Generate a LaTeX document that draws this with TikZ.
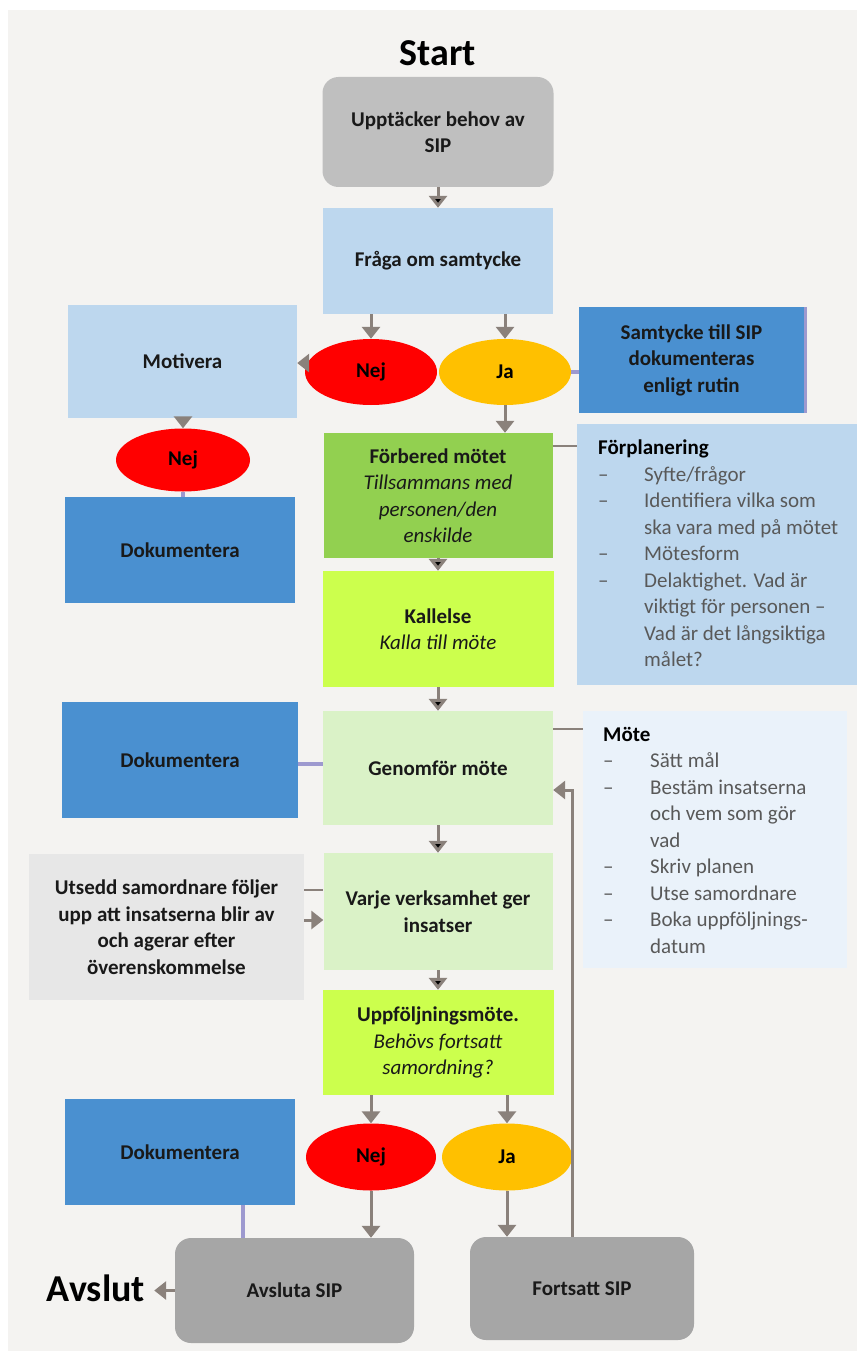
\documentclass[tikz,border=0pt]{standalone}
\usepackage{fontspec}
\setmainfont{Carlito}
\usetikzlibrary{arrows.meta,shapes.geometric,shadows,positioning}

\definecolor{bg}{HTML}{F4F3F1}
\definecolor{startgrey}{HTML}{BFBFBF}
\definecolor{endgrey}{HTML}{A6A6A6}
\definecolor{paleblue}{HTML}{BDD7EE}
\definecolor{docblue}{HTML}{4A90D0}
\definecolor{nejred}{HTML}{FF0000}
\definecolor{jaorange}{HTML}{FFC000}
\definecolor{prepgreen}{HTML}{92D050}
\definecolor{lime}{HTML}{CCFF4D}
\definecolor{palegreen}{HTML}{DAF2C7}
\definecolor{palegrey}{HTML}{E7E7E7}
\definecolor{noteblue}{HTML}{EAF2FA}
\definecolor{arrgrey}{HTML}{8A817B}
\definecolor{doclilac}{HTML}{9D99CF}
\definecolor{listgrey}{HTML}{595959}

\newcommand{\subline}[1]{{\mdseries\itshape #1}}
\newcommand{\dashitem}[2][46pt]{\makebox[#1][l]{--}#2}
\newcommand{\contitem}[2][46pt]{\hspace*{#1}#2}

\tikzset{
  stepbox/.style={rectangle, inner sep=4pt, align=center, text=black!90,
    font=\bfseries\fontsize{21}{26.5}\selectfont},
  endbox/.style={stepbox, rounded corners=16pt},
  answer/.style={ellipse, inner sep=0pt, minimum width=132pt, minimum height=66pt,
    font=\bfseries\fontsize{21}{26.5}\selectfont},
  notebox/.style={rectangle, inner sep=0pt},
  notetext/.style={inner sep=0pt, align=left, text=listgrey,
    font=\fontsize{21}{26.5}\selectfont},
  bigtitle/.style={inner sep=0pt, font=\bfseries\fontsize{38}{40}\selectfont},
  arr/.style={draw=arrgrey, line width=3pt, ->},
  docline/.style={draw=doclilac, line width=4pt},
  noteline/.style={draw=arrgrey, line width=2pt}
}

\begin{document}
\begin{tikzpicture}[x=1pt,y=-1pt,>={Triangle[width=18pt,length=12pt]}]
\useasboundingbox (0,0) rectangle (857,1351);
\fill[white] (0,0) rectangle (857,1351);
\fill[bg] (8,10) rectangle (857,1351);

\node[bigtitle] (start) at (438,53) {Start};
\node[endbox, fill=startgrey, minimum width=231pt, minimum height=110pt] (upp) at (438,132)
  {Upptäcker behov av\\SIP};
\node[stepbox, fill=paleblue, minimum width=230pt, minimum height=106pt] (fraga) at (438,261)
  {Fråga om samtycke};
\node[answer, fill=nejred] (nej1) at (371,372) {Nej};
\node[answer, fill=jaorange] (ja1) at (505,372) {Ja};
\node[stepbox, fill=paleblue, minimum width=229pt, minimum height=113pt] (motivera) at (182.5,361.5)
  {Motivera};
\node[stepbox, fill=docblue, minimum width=225pt, minimum height=106pt,
  general shadow={fill=doclilac, shadow xshift=3pt, shadow yshift=0pt}] (samtycke) at (691.5,360)
  {Samtycke till SIP\\dokumenteras\\enligt rutin};
\node[answer, fill=nejred, minimum width=134pt, minimum height=63pt] (nej2) at (183,460) {Nej};
\node[stepbox, fill=docblue, minimum width=230pt, minimum height=106pt] (dok1) at (180,550)
  {Dokumentera};
\node[stepbox, fill=prepgreen, minimum width=229pt, minimum height=125pt] (forbered) at (438,495.5)
  {Förbered mötet\\\subline{Tillsammans med}\\\subline{personen/den}\\\subline{enskilde}};
\node[notebox, fill=paleblue, minimum width=280pt, minimum height=261pt] (forplan) at (717,554.5) {};
\node[notetext, anchor=north west] (forplantext) at (598,440)
  {\textcolor{black}{\bfseries Förplanering}\\
   \dashitem{Syfte/frågor}\\
   \dashitem{Identifiera vilka som}\\
   \contitem{ska vara med på mötet}\\
   \dashitem{Mötesform}\\
   \dashitem{Delaktighet. Vad är}\\
   \contitem{viktigt för personen --}\\
   \contitem{Vad är det långsiktiga}\\
   \contitem{målet?}};
\node[stepbox, fill=lime, minimum width=231pt, minimum height=116pt] (kallelse) at (438,629)
  {Kallelse\\\subline{Kalla till möte}};
\node[stepbox, fill=docblue, minimum width=236pt, minimum height=116pt] (dok2) at (180,760)
  {Dokumentera};
\node[stepbox, fill=palegreen, minimum width=230pt, minimum height=114pt] (genomfor) at (438,768)
  {Genomför möte};
\node[notebox, fill=noteblue, minimum width=264pt, minimum height=257pt] (mote) at (715,839.5) {};
\node[notetext, anchor=north west] (motetext) at (603,727)
  {\textcolor{black}{\bfseries Möte}\\
   \dashitem[47pt]{Sätt mål}\\
   \dashitem[47pt]{Bestäm insatserna}\\
   \contitem[47pt]{och vem som gör}\\
   \contitem[47pt]{vad}\\
   \dashitem[47pt]{Skriv planen}\\
   \dashitem[47pt]{Utse samordnare}\\
   \dashitem[47pt]{Boka uppföljnings-}\\
   \contitem[47pt]{datum}};
\node[stepbox, fill=palegreen, minimum width=229pt, minimum height=117pt] (varje) at (438,911.5)
  {Varje verksamhet ger\\insatser};
\node[stepbox, fill=palegrey, minimum width=275pt, minimum height=146pt] (utsedd) at (166.5,927)
  {Utsedd samordnare följer\\upp att insatserna blir av\\och agerar efter\\överenskommelse};
\node[stepbox, fill=lime, minimum width=231pt, minimum height=105pt] (uppf) at (438,1042.5)
  {Uppföljningsmöte.\\\subline{Behövs fortsatt}\\\subline{samordning?}};
\node[answer, fill=nejred, minimum width=130pt, minimum height=67pt] (nej3) at (371,1157) {Nej};
\node[answer, fill=jaorange, minimum width=130pt, minimum height=67pt] (ja3) at (507,1157) {Ja};
\node[stepbox, fill=docblue, minimum width=230pt, minimum height=106pt] (dok3) at (180,1152)
  {Dokumentera};
\node[endbox, fill=endgrey, minimum width=239pt, minimum height=105pt] (avsluta) at (294.5,1290.5)
  {Avsluta SIP};
\node[endbox, fill=endgrey, minimum width=224pt, minimum height=103pt] (fortsatt) at (582,1288.5)
  {Fortsatt SIP};
\node[bigtitle, inner sep=9pt] (avslut) at (96,1288) {Avslut};

\path[arr]
(upp) edge (fraga)
(forbered) edge (kallelse)
(kallelse) edge (genomfor)
(genomfor) edge (varje)
(varje) edge (uppf);
\draw[arr] (fraga.south -| nej1.north) -- (nej1.north);
\draw[arr] (fraga.south -| ja1.north) -- (ja1.north);
\draw[arr] (nej1.172) -- (nej1.172 -| motivera.east);
\draw[arr] (ja1.south) -- (ja1.south |- forbered.north);
\draw[arr] (motivera.south -| nej2.north) -- (nej2.north);
\draw[arr] (uppf.south -| nej3.north) -- (nej3.north);
\draw[arr] (uppf.south -| ja3.north) -- (ja3.north);
\draw[arr] (nej3.south) -- (nej3.south |- avsluta.north);
\draw[arr] (ja3.south) -- (ja3.south |- fortsatt.north);
\draw[arr] ([yshift=7pt]utsedd.east) -- ([yshift=7pt]utsedd.east -| varje.west);
\draw[arr] ([xshift=-10pt]fortsatt.north) |- ([yshift=-22pt]genomfor.east);
\draw[arr] (avsluta.west) -- (avsluta.west -| avslut.east);

\draw[docline] (ja1.east) -- (ja1.east -| samtycke.west);
\draw[docline] (nej2.south) -- (nej2.south |- dok1.north);
\draw[docline] ([yshift=-4pt]dok2.east) -- ([yshift=-4pt]dok2.east -| genomfor.west);
\draw[docline] ([xshift=63pt]dok3.south) -- ([xshift=63pt]dok3.south |- avsluta.north);

\draw[noteline] ([yshift=-13pt]forbered.north east) -- ([yshift=-13pt]forbered.north east -| forplan.west);
\draw[noteline] ([yshift=-18pt]genomfor.north east) -- ([yshift=-18pt]genomfor.north east -| mote.west);
\draw[noteline] ([yshift=37pt]utsedd.east) -- ([yshift=37pt]utsedd.east -| varje.west);
\end{tikzpicture}
\end{document}
